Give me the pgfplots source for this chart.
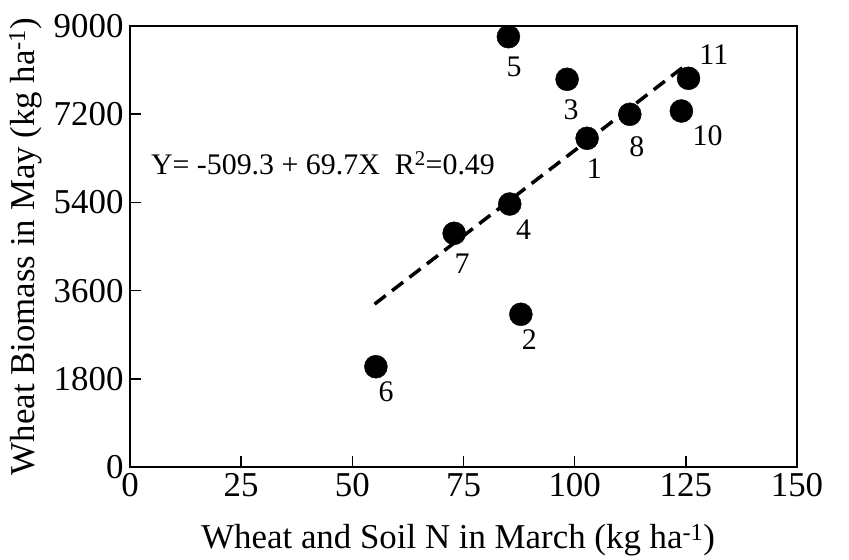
\documentclass[border=0pt]{standalone}
\usepackage{fontspec}
\setmainfont{Liberation Serif}
\usepackage{pgfplots}
\pgfplotsset{compat=1.18}
\begin{document}
\begin{tikzpicture}
\begin{axis}[
  scale only axis,
  width=667bp, height=441bp,
  xmin=0, xmax=150, ymin=0, ymax=9000,
  xtick={0,25,50,75,100,125,150},
  ytick={0,1800,3600,5400,7200,9000},
  xtick pos=left, ytick pos=left,
  tick align=inside,
  major tick length=11bp,
  axis line style={line width=2.5bp},
  every tick/.style={line width=1.5bp, black},
  /pgf/number format/assume math mode=true,
  /pgf/number format/.cd, set thousands separator={}, 1000 sep={},
  /pgfplots/.cd,
  tick label style={font=\fontsize{35}{40}\selectfont},
  yticklabel style={xshift=-3bp},
  xticklabel style={yshift=-3bp},
  xlabel={Wheat and Soil N in March (kg ha\textsuperscript{-1})},
  ylabel={Wheat Biomass in May (kg ha\textsuperscript{-1})},
  label style={font=\fontsize{35}{40}\selectfont},
  xlabel style={at={(axis description cs:0.492,-0.166)}, anchor=center},
  ylabel style={at={(axis description cs:-0.157,0.5)}, anchor=center, rotate=0},
  clip=false,
]
\addplot[only marks, mark=*, mark size=11.5bp, black] coordinates {
  (102.8,6708) (87.9,3116) (98.3,7912) (85.4,5367) (85.1,8782)
  (55.3,2047) (72.9,4769) (112.4,7198) (124.0,7265) (125.6,7932)
};
\addplot[black, line width=3.5bp, dash pattern=on 14bp off 8bp] coordinates {
  (55,3324.2) (125.5,8237.1)
};
\begin{scope}[every node/.style={font=\fontsize{30}{34}\selectfont}]
\node at (axis cs:104.4,6096) {1};
\node at (axis cs:89.8,2606) {2};
\node at (axis cs:99.2,7286) {3};
\node at (axis cs:88.5,4837) {4};
\node at (axis cs:86.4,8163) {5};
\node at (axis cs:57.6,1537) {6};
\node at (axis cs:74.7,4157) {7};
\node at (axis cs:114.0,6537) {8};
\node at (axis cs:129.9,6755) {10};
\node at (axis cs:131.3,8408) {11};
\node[font=\fontsize{30}{34}\selectfont] at (axis cs:43.4,6204) {Y= -509.3 + 69.7X\ \ R\textsuperscript{2}=0.49};
\end{scope}
\end{axis}
\path (current axis.south west) ++(-130bp,-90bp);
\path (current axis.north east) ++(52bp,26bp);
\end{tikzpicture}
\end{document}
